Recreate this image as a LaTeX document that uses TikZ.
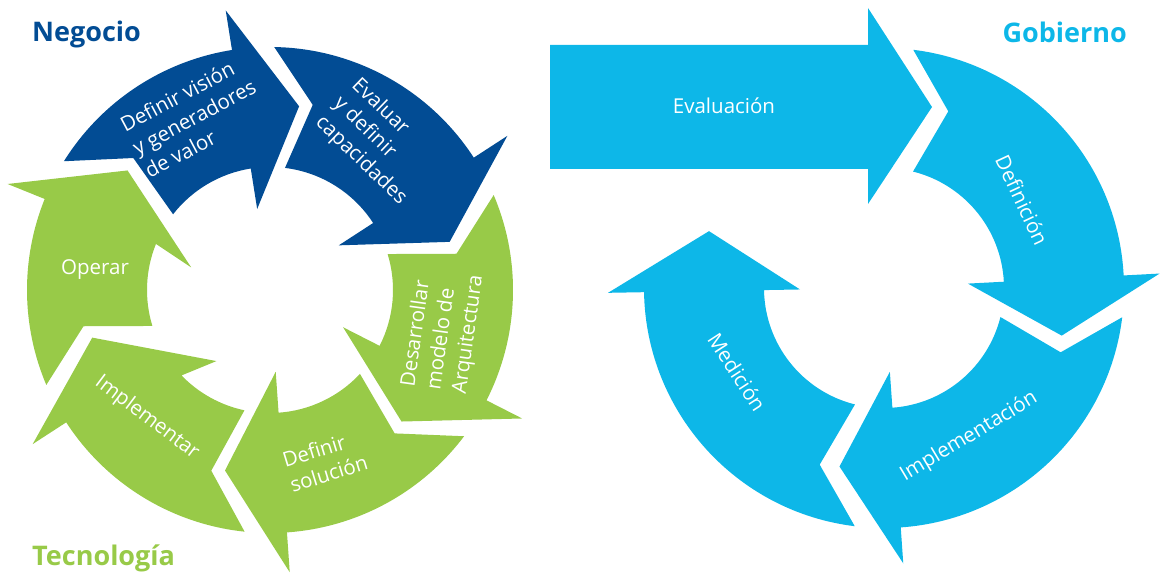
\documentclass[tikz,border=0pt]{standalone}
\usepackage{fontspec}
\setmainfont{Open Sans}
\definecolor{negocio}{RGB}{2,76,148}
\definecolor{tecno}{RGB}{152,202,72}
\definecolor{gobierno}{RGB}{13,183,232}
\begin{document}
\begin{tikzpicture}[x=1pt,y=1pt,
  lbl/.style={text=white,inner sep=0pt,align=left,font=\fontsize{20.5}{26}\selectfont},
  ttl/.style={inner sep=0pt,font=\fontsize{27}{30}\selectfont\bfseries}]
\useasboundingbox (0,0) rectangle (1168,574);
% left wheel
\begin{scope}[shift={(270,284)}]
\fill[negocio] (-212:243) arc[start angle=-212,end angle=-261,radius=243pt] -- (-261:283) -- (-279:186) -- (-261:82) -- (-261:123) arc[start angle=-261,end angle=-218,radius=123pt] -- (-224:190) -- cycle;
\fill[negocio] (-271:243) arc[start angle=-271,end angle=-327,radius=243pt] -- (-327:283) -- (-345:186) -- (-327:82) -- (-327:123) arc[start angle=-327,end angle=-277,radius=123pt] -- (-283:190) -- cycle;
\fill[tecno] (-337:243) arc[start angle=-337,end angle=-387,radius=243pt] -- (-387:283) -- (-405:186) -- (-387:82) -- (-387:123) arc[start angle=-387,end angle=-343,radius=123pt] -- (-349:190) -- cycle;
\fill[tecno] (-37:243) arc[start angle=-37,end angle=-86,radius=243pt] -- (-86:283) -- (-104:186) -- (-86:82) -- (-86:123) arc[start angle=-86,end angle=-43,radius=123pt] -- (-49:190) -- cycle;
\fill[tecno] (-96:243) arc[start angle=-96,end angle=-147,radius=243pt] -- (-147:283) -- (-165:184) -- (-127:89) -- (-136:123) arc[start angle=-136,end angle=-102,radius=123pt] -- (-108:190) -- cycle;
\fill[tecno] (-157:243) arc[start angle=-157,end angle=-202,radius=243pt] -- (-202:283) -- (-220:186) -- (-196:82) -- (-202:123) arc[start angle=-202,end angle=-163,radius=123pt] -- (-169:190) -- cycle;
\end{scope}
% right wheel
\fill[gobierno] (550,529) -- (868,529) -- (868,566) -- (932,467) -- (868,370) -- (868,405) -- (550,405) -- cycle;
\begin{scope}[shift={(884,286)}]
\fill[gobierno] (-277:240) arc[start angle=-277,end angle=-357,radius=240pt] -- (-357:276) -- (-375:184) -- (-357:84) -- (-357:120) arc[start angle=-357,end angle=-284,radius=120pt] -- (-290:188) -- cycle;
\fill[gobierno] (-7:240) arc[start angle=-7,end angle=-86,radius=240pt] -- (-86:276) -- (-104:184) -- (-86:84) -- (-86:120) arc[start angle=-86,end angle=-14,radius=120pt] -- (-20:188) -- cycle;
\fill[gobierno] (-97:240) arc[start angle=-97,end angle=-179,radius=240pt] -- (-179:276) -- (-198:184) -- (-179:84) -- (-179:120) arc[start angle=-179,end angle=-104,radius=120pt] -- (-110:188) -- cycle;
\end{scope}
% titles
\node[ttl,text=negocio,anchor=base west] (negocio) at (32,532) {Negocio};
\node[ttl,text=tecno,anchor=base west] (tecnologia) at (32,9) {Tecnología};
\node[ttl,text=gobierno,anchor=base east] (gobierno) at (1127,531) {Gobierno};
% labels
\node[lbl,rotate=28] (vision) at (194,457) {Definir visión\\y generadores\\de valor};
\node[lbl,rotate=-44] (evaluar) at (379,432) {Evaluar\\y definir\\capacidades};
\node[lbl,rotate=82] (desarrollar) at (443,243) {Desarrollar\\modelo de\\Arquitectura};
\node[lbl,rotate=17] (solucion) at (325,113) {Definir\\solución};
\node[lbl,rotate=-37] (implementar) at (147,156) {Implementar};
\node[lbl] (operar) at (95,304) {Operar};
\node[lbl,anchor=base] (evaluacion) at (724,460) {Evaluación};
\node[lbl,rotate=-65] (definicion) at (1022,374) {Definición};
\node[lbl,rotate=31] (implementacion) at (969,137) {Implementación};
\node[lbl,rotate=-57] (medicion) at (737,202) {Medición};
\end{tikzpicture}
\end{document}
